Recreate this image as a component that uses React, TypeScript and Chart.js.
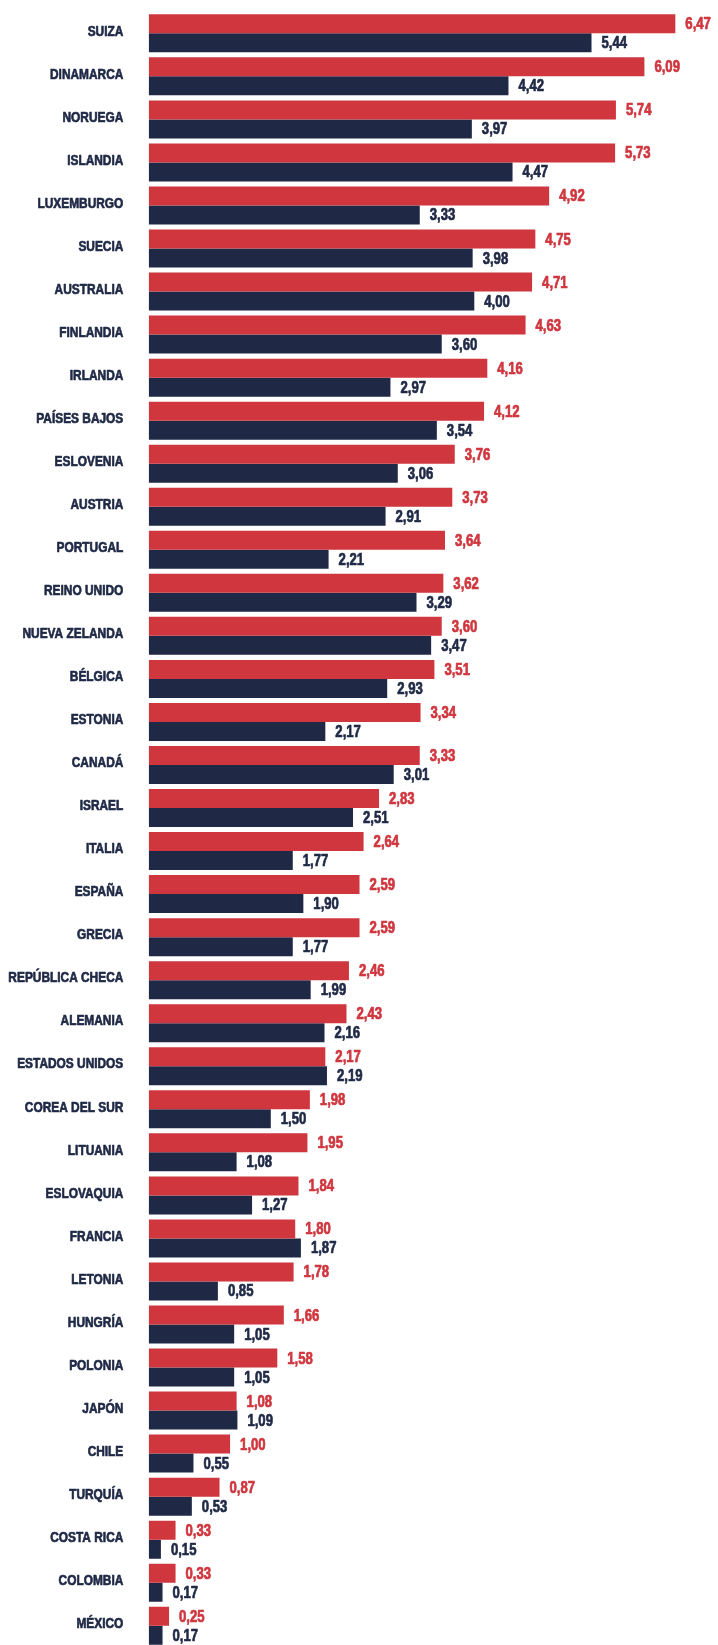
import React, { useEffect, useRef } from "react";
import { Chart, registerables } from "chart.js";

Chart.register(...registerables);

const categories = [
  "SUIZA", "DINAMARCA", "NORUEGA", "ISLANDIA", "LUXEMBURGO", "SUECIA", "AUSTRALIA",
  "FINLANDIA", "IRLANDA", "PAÍSES BAJOS", "ESLOVENIA", "AUSTRIA", "PORTUGAL",
  "REINO UNIDO", "NUEVA ZELANDA", "BÉLGICA", "ESTONIA", "CANADÁ", "ISRAEL", "ITALIA",
  "ESPAÑA", "GRECIA", "REPÚBLICA CHECA", "ALEMANIA", "ESTADOS UNIDOS", "COREA DEL SUR",
  "LITUANIA", "ESLOVAQUIA", "FRANCIA", "LETONIA", "HUNGRÍA", "POLONIA", "JAPÓN",
  "CHILE", "TURQUÍA", "COSTA RICA", "COLOMBIA", "MÉXICO",
];

const redValues = [
  6.47, 6.09, 5.74, 5.73, 4.92, 4.75, 4.71, 4.63, 4.16, 4.12, 3.76, 3.73, 3.64, 3.62,
  3.6, 3.51, 3.34, 3.33, 2.83, 2.64, 2.59, 2.59, 2.46, 2.43, 2.17, 1.98, 1.95, 1.84,
  1.8, 1.78, 1.66, 1.58, 1.08, 1.0, 0.87, 0.33, 0.33, 0.25,
];

const navyValues = [
  5.44, 4.42, 3.97, 4.47, 3.33, 3.98, 4.0, 3.6, 2.97, 3.54, 3.06, 2.91, 2.21, 3.29,
  3.47, 2.93, 2.17, 3.01, 2.51, 1.77, 1.9, 1.77, 1.99, 2.16, 2.19, 1.5, 1.08, 1.27,
  1.87, 0.85, 1.05, 1.05, 1.09, 0.55, 0.53, 0.15, 0.17, 0.17,
];

const RED = "#d0363e";
const NAVY = "#1f2946";
const FONT = "'Liberation Sans', Arial, sans-serif";
const NARROW = 0.82;

function drawNarrow(ctx: CanvasRenderingContext2D, text: string, x: number, y: number) {
  ctx.save();
  ctx.translate(x, y);
  ctx.scale(NARROW, 1);
  ctx.lineWidth = 0.7;
  ctx.lineJoin = "round";
  ctx.strokeStyle = ctx.fillStyle as string;
  ctx.strokeText(text, 0, 0);
  ctx.fillText(text, 0, 0);
  ctx.restore();
}

const textPlugin = {
  id: "narrowText",
  afterDatasetsDraw(chart: any) {
    const ctx = chart.ctx as CanvasRenderingContext2D;
    const yScale = chart.scales.y;
    ctx.save();
    // category labels
    ctx.font = `bold 14.5px ${FONT}`;
    ctx.textAlign = "right";
    ctx.textBaseline = "alphabetic";
    ctx.fillStyle = NAVY;
    chart.data.labels.forEach((lab: string, i: number) => {
      const y = yScale.getPixelForValue(i);
      drawNarrow(ctx, lab, 123.3, y + 2.2);
    });
    // value labels
    ctx.font = `bold 16px ${FONT}`;
    ctx.textAlign = "left";
    chart.data.datasets.forEach((ds: any, di: number) => {
      const meta = chart.getDatasetMeta(di);
      ctx.fillStyle = ds.backgroundColor;
      meta.data.forEach((el: any, i: number) => {
        const v = ds.data[i] as number;
        drawNarrow(ctx, v.toFixed(2).replace(".", ","), el.x + 10, el.y + 5.5);
      });
    });
    ctx.restore();
  },
};

export default function App() {
  const ref = useRef<HTMLCanvasElement | null>(null);
  useEffect(() => {
    if (!ref.current) return;
    const chart = new Chart(ref.current, {
      type: "bar",
      data: {
        labels: categories,
        datasets: [
          { data: redValues, backgroundColor: RED, borderWidth: 0 },
          { data: navyValues, backgroundColor: NAVY, borderWidth: 0 },
        ],
      },
      options: {
        indexAxis: "y",
        animation: false,
        responsive: true,
        maintainAspectRatio: false,
        layout: { padding: { top: 11.8, bottom: 2.7, left: 148.7, right: 15.8 } },
        datasets: { bar: { categoryPercentage: 0.883, barPercentage: 1 } },
        plugins: { legend: { display: false }, tooltip: { enabled: false } },
        scales: {
          x: { display: false, min: 0, max: 6.8 },
          y: { display: false },
        },
      },
      plugins: [textPlugin],
    });
    return () => chart.destroy();
  }, []);
  return (
    <div
      style={{
        position: "absolute",
        top: 0,
        left: 0,
        width: 718,
        height: 1645,
        overflow: "hidden",
        background: "#ffffff",
      }}
    >
      <div style={{ position: "relative", width: 718, height: 1650 }}>
        <canvas ref={ref} />
      </div>
    </div>
  );
}
